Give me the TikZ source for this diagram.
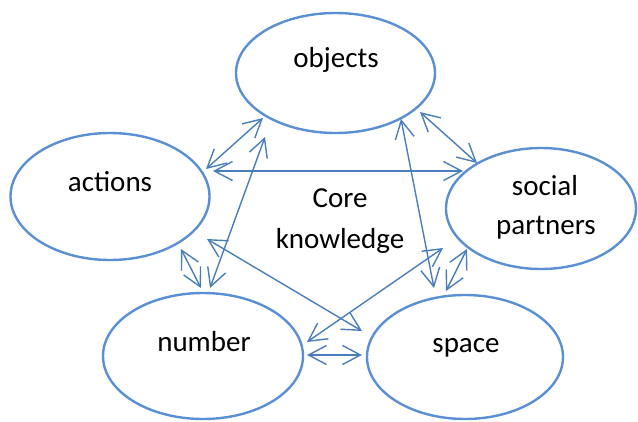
\documentclass[tikz,border=0pt]{standalone}
\usepackage{fontspec}
\setmainfont{Carlito}
\usetikzlibrary{shapes.geometric,arrows.meta,calc}
\definecolor{ellblue}{HTML}{5A8FD3}
\definecolor{arrblue}{HTML}{4A7EBB}
\tikzset{
  ell/.style={ellipse,draw=ellblue,line width=2.4pt,inner sep=0pt,outer sep=0pt},
  lbl/.style={anchor=base,inner sep=0pt,font=\fontsize{29}{35}\selectfont},
  arr/.style={draw=arrblue,line width=1.4pt,line join=round,
    {Straight Barb[length=18pt,width=19pt,line width=1.4pt]}-{Straight Barb[length=18pt,width=19pt,line width=1.4pt]}}
}
\begin{document}
\begin{tikzpicture}[x=1pt,y=-1pt]
\useasboundingbox (0,0) rectangle (638,421);
% ellipses
\node[ell,minimum width=199pt,minimum height=120pt] (objects) at (335.5,73) {};
\node[ell,minimum width=199pt,minimum height=127pt] (actions) at (110,196.5) {};
\node[ell,minimum width=190pt,minimum height=121pt] (social) at (541,208.5) {};
\node[ell,minimum width=200pt,minimum height=126pt] (number) at (203,356) {};
\node[ell,minimum width=196pt,minimum height=124pt] (space) at (465,357) {};
% labels
\node[lbl] (objectsT) at (336,67) {objects};
\node[lbl] (actionsT) at (110,191) {actions};
\node[lbl] (coreT) at (340,207) {Core};
\node[lbl] (knowT) at (340,248) {knowledge};
\node[lbl] (socialT) at (545,195) {social};
\node[lbl] (partnersT) at (546,234) {partners};
\node[lbl] (numberT) at (204,351) {number};
\node[lbl] (spaceT) at (466,352) {space};
% connectors
\draw[arr] ($(objects)+(-72.5,45)$) -- ($(actions)+(96,-27.5)$);
\draw[arr] ($(actions)+(103,-25.5)$) -- ($(social)+(-78,-37.5)$);
\draw[arr] ($(objects)+(-70.5,64)$) -- ($(number)+(7,-68)$);
\draw[arr] ($(actions)+(71,52.5)$) -- ($(number)+(-2,-68)$);
\draw[arr] ($(actions)+(97,42.5)$) -- ($(space)+(-103,-26)$);
\draw[arr] ($(social)+(-98,39.5)$) -- ($(number)+(104,-14)$);
\draw[arr] ($(number)+(104,-1)$) -- ($(space)+(-103,-2)$);
\draw[arr] ($(objects)+(65.5,46)$) -- ($(space)+(-31,-69)$);
\draw[arr] ($(social)+(-74,40.5)$) -- ($(space)+(-19,-66)$);
\draw[arr] ($(objects)+(84.5,39)$) -- ($(social)+(-64,-45.5)$);
\end{tikzpicture}
\end{document}
